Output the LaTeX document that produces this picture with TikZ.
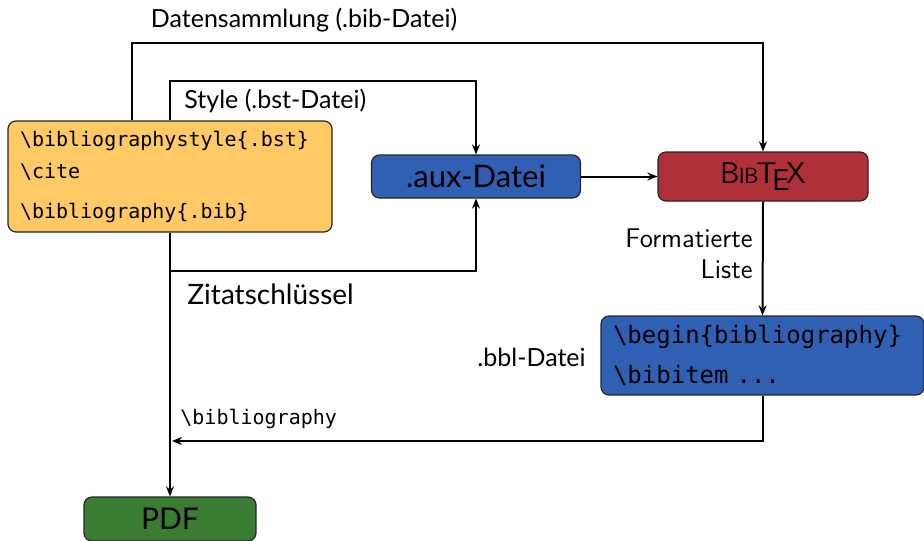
\documentclass[tikz,border=0pt]{standalone}
\usepackage{fontspec}
\setmainfont{Lato}
\setmonofont{DejaVu Sans Mono}
\usepackage{tikz}
\usetikzlibrary{arrows.meta}

\definecolor{srcorange}{RGB}{255,201,102}
\definecolor{filblue}{RGB}{48,96,180}
\definecolor{bibred}{RGB}{175,48,56}
\definecolor{pdfgreen}{RGB}{58,125,50}

\newcommand{\bibtexlogo}{\mbox{B\kern-.03em{\fontsize{11pt}{11pt}\selectfont I\kern-.02emB}\kern-.06em T\kern-.15em\lower.5ex\hbox{E}\kern-.11emX}}

\tikzset{
  box/.style={draw=black!85, line width=0.6pt, rounded corners=4pt, inner sep=0pt},
  arr/.style={-{Stealth[length=5pt,width=4pt]}, line width=1pt},
  lbl/.style={font=\fontsize{12.5pt}{15pt}\selectfont, inner sep=0pt}
}

\begin{document}
\begin{tikzpicture}[x=0.5pt,y=-0.5pt]
		\useasboundingbox (0,0) rectangle (924,540);
            % boxes
            \node [box, fill=srcorange, align=left, text width=150pt, inner xsep=6pt, minimum height=55.5pt,
                   font=\ttfamily\fontsize{10pt}{12pt}\selectfont] (src) at (170,176.5)
                  {\textbackslash bibliographystyle\{.bst\}\\[4pt]
                   \textbackslash cite\\[8pt]
                   \textbackslash bibliography\{.bib\}};
            \node [box, fill=filblue, minimum width=104.5pt, minimum height=21.5pt,
                   font=\fontsize{15.5pt}{17pt}\selectfont] (aux) at (476,176.5) {.aux-Datei};
            \node [box, fill=bibred, minimum width=105pt, minimum height=24.5pt,
                   font=\sffamily\fontsize{15pt}{17pt}\selectfont] (bibtex) at (763,176.5) {\bibtexlogo};
            \node [box, fill=filblue, align=left, text width=149.5pt, inner xsep=6pt, minimum height=39.5pt,
                   font=\ttfamily\fontsize{12pt}{14pt}\selectfont] (bbl) at (762.5,355.5)
                  {\textbackslash begin\{bibliography\}\\[6pt]
                   \textbackslash bibitem ...};
            \node [box, fill=pdfgreen, minimum width=86pt, minimum height=22pt,
                   font=\fontsize{15pt}{17pt}\selectfont] (pdf) at (170,519) {PDF};
            % arrows
            \draw [arr] ([xshift=-19pt]src.north) -- ++(0,-77) -| (bibtex.north);
            \draw [arr] (src.north) -- ++(0,-39) -| (aux.north);
            \draw [arr] (src.south) -- ++(0,38) -| (aux.south);
            \draw [arr] (src.south) -- (pdf.north);
            \draw [arr] (aux.east) -- (bibtex.west);
            \draw [arr] (bibtex.south) -- (bbl.north);
            \coordinate (join) at (172,441);
            \draw [arr] (bbl.south) |- (join);
            % labels
            \node [lbl] (datlbl) at (304,20) {Datensammlung (.bib-Datei)};
            \node [lbl, anchor=west] (stylbl) at (184,101) {Style (.bst-Datei)};
            \node [lbl, anchor=west, font=\fontsize{14pt}{16pt}\selectfont] (zitlbl) at (187,294) {Zitatschlüssel};
            \node [lbl, anchor=east, align=right, font=\sffamily\fontsize{13.5pt}{15.5pt}\selectfont] (fmtlbl) at (753,254) {Formatierte\\Liste};
            \node [lbl, anchor=east] (bbllbl) at (586,357) {.bbl-Datei};
            \node [lbl, anchor=west, font=\ttfamily\fontsize{10pt}{12pt}\selectfont] (biblbl) at (180,419) {\textbackslash bibliography};
\end{tikzpicture}
\end{document}
